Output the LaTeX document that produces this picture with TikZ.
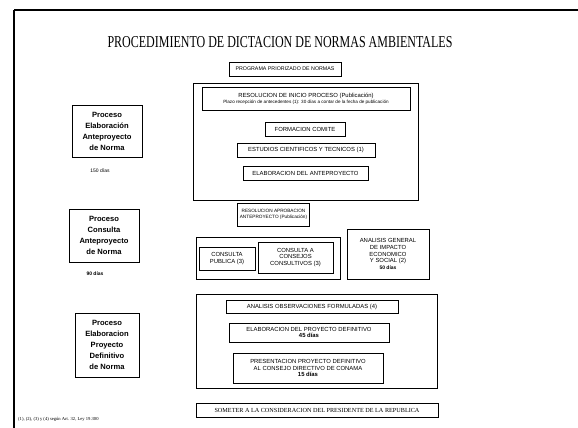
\documentclass[tikz,border=0pt]{standalone}
\usepackage{fontspec}
\setmainfont{Liberation Serif}
\setsansfont{Liberation Sans}
\usepackage{tikz}
\usetikzlibrary{positioning}

\begin{document}
\begin{tikzpicture}[
    x=1pt, y=-1pt,
    box/.style={rectangle, draw, line width=0.7pt, inner sep=0pt, align=center, font=\sffamily\fontsize{5.9}{6.8}\selectfont},
    group/.style={rectangle, draw, line width=0.85pt, inner sep=0pt},
    procbox/.style={rectangle, draw, line width=0.7pt, inner sep=0pt, align=center, font=\sffamily\bfseries\fontsize{7.6}{11}\selectfont},
    dias/.style={font=\sffamily\bfseries\fontsize{5}{6}\selectfont}
]
\useasboundingbox (0,0) rectangle (578,428);
% marco de la hoja
\draw[line width=2pt] (14,10) -- (578,10);
\draw[line width=2.4pt] (14,10) -- (14,428);

\node (title) at (280,42) {\resizebox{345pt}{11pt}{PROCEDIMIENTO DE DICTACION DE NORMAS AMBIENTALES}};
\node[box, minimum width=112, minimum height=14, font=\sffamily\fontsize{5.3}{6}\selectfont] (prog) at (285,69) {PROGRAMA PRIORIZADO DE NORMAS};

% elaboracion del anteproyecto
\node[group, minimum width=225, minimum height=117] (g1) at (305.5,141.5) {};
\node[box, minimum width=208, minimum height=23] (ini) at (306,98.5)
    {RESOLUCION DE INICIO PROCESO (Publicación)\\[-1pt]
     {\fontsize{4.6}{5}\selectfont Plazo recepción de antecedentes (1): 30 días a contar de la fecha de publicación}};
\node[box, minimum width=80, minimum height=14] (comite) at (305,129) {FORMACION COMITE};
\node[box, minimum width=138, minimum height=14] (estud) at (306,150) {ESTUDIOS CIENTIFICOS Y TECNICOS (1)};
\node[box, minimum width=125, minimum height=14] (antep) at (305.5,173) {ELABORACION DEL ANTEPROYECTO};
\node[procbox, minimum width=70, minimum height=52] (p1) at (107,131) {Proceso\\Elaboración\\Anteproyecto\\de Norma};
\node[dias, font=\sffamily\fontsize{5}{6}\selectfont] (d1) at (100,171) {150 días};

% consulta
\node[box, minimum width=72, minimum height=23, font=\sffamily\fontsize{4.7}{6.4}\selectfont] (aprob) at (273.5,214.5) {RESOLUCION APROBACION\\ANTEPROYECTO (Publicación)};
\node[group, minimum width=144, minimum height=42] (g2) at (268,258) {};
\node[box, minimum width=56, minimum height=23] (publ) at (227,258.5) {CONSULTA\\PUBLICA (3)};
\node[box, minimum width=75, minimum height=31] (consej) at (295.5,257.5) {CONSULTA A\\CONSEJOS\\CONSULTIVOS (3)};
\node[box, line width=0.85pt, minimum width=82, minimum height=50] (impacto) at (388,254) {ANALISIS GENERAL\\DE IMPACTO\\ECONOMICO\\Y SOCIAL (2)\\{\bfseries\fontsize{5}{6}\selectfont 50 días}};
\node[procbox, minimum width=70, minimum height=53] (p2) at (104,235.5) {Proceso\\Consulta\\Anteproyecto\\de Norma};
\node[dias] (d2) at (95,274) {90 días};

% proyecto definitivo
\node[group, minimum width=241, minimum height=94] (g3) at (316.5,341) {};
\node[box, minimum width=172, minimum height=13] (observ) at (312,306.5) {ANALISIS OBSERVACIONES FORMULADAS (4)};
\node[box, minimum width=160, minimum height=19] (defin) at (309,332.5) {ELABORACION DEL PROYECTO DEFINITIVO\\{\bfseries 45 días}};
\node[box, minimum width=150, minimum height=30] (present) at (308,368) {PRESENTACION PROYECTO DEFINITIVO\\AL CONSEJO DIRECTIVO DE CONAMA\\{\bfseries 15 días}};
\node[procbox, minimum width=64, minimum height=64] (p3) at (107,345) {Proceso\\Elaboracion\\Proyecto\\Definitivo\\de Norma};

\node[box, minimum width=242, minimum height=14, font=\rmfamily\fontsize{6.2}{7}\selectfont] (somet) at (317,410) {SOMETER A LA CONSIDERACION DEL PRESIDENTE DE LA REPUBLICA};
\node[anchor=west, inner sep=0pt, font=\rmfamily\fontsize{4.6}{5}\selectfont] (nota) at (18,419) {(1), (2), (3) y (4) según Art. 32, Ley 19.300};
\end{tikzpicture}
\end{document}
